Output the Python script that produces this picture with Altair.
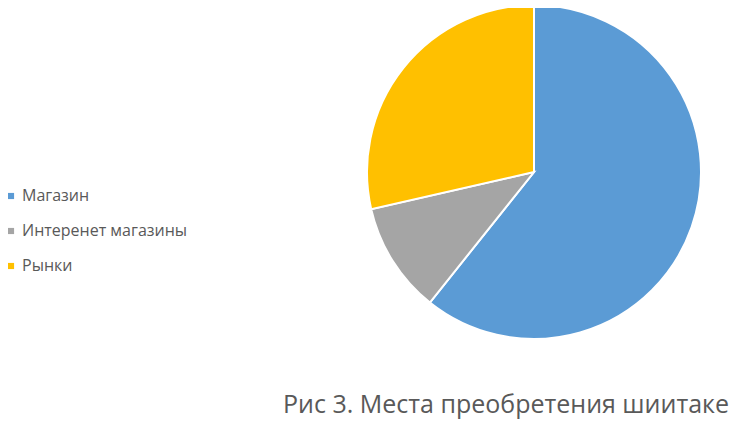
import altair as alt
import pandas as pd

categories = ["Магазин", "Интеренет магазины", "Рынки"]
values = [17, 3, 8]
colors = ["#5B9BD5", "#A5A5A5", "#FFC000"]
title_text = "Рис 3. Места преобретения шиитаке"

df = pd.DataFrame({"cat": categories, "val": values, "ord": list(range(len(categories)))})

pie = alt.Chart(df).mark_arc(outerRadius=167, stroke="white", strokeWidth=2).encode(
    theta=alt.Theta("val:Q", stack=True),
    order=alt.Order("ord:Q"),
    color=alt.Color(
        "cat:N",
        scale=alt.Scale(domain=categories, range=colors),
        sort=categories,
        legend=alt.Legend(
            title=None,
            orient="none",
            legendX=-5,
            legendY=180,
            symbolType="square",
            symbolSize=38,
            symbolStrokeWidth=0,
            labelFontSize=16,
            labelFont="Open Sans",
            labelColor="#595959",
            labelOffset=3,
            labelLimit=400,
            rowPadding=19,
        ),
    ),
    x=alt.value(526),
    y=alt.value(164),
)

title = alt.Chart(pd.DataFrame({"t": [title_text]})).mark_text(
    align="right", baseline="alphabetic", fontSize=25, font="Open Sans", color="#595959"
).encode(text="t:N", x=alt.value(721), y=alt.value(405))

chart = alt.layer(pie, title).properties(
    width=722, height=411, autosize=alt.AutoSizeParams(type="none"), padding=0
).configure_view(stroke=None)

chart.save("out.html", embed_options={"renderer": "svg", "actions": False})
